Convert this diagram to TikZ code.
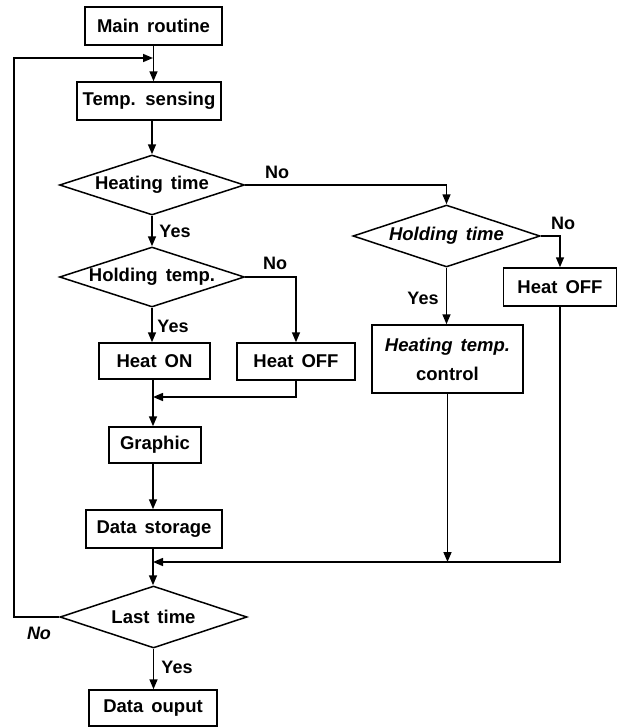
\documentclass[tikz,border=0pt]{standalone}
\usepackage{fontspec}
\setmainfont{Liberation Sans}
\usetikzlibrary{shapes.geometric,arrows.meta}
\newcommand\chartfont{\fontsize{18.5}{29}\selectfont\bfseries\spaceskip=8pt plus 1pt minus 1pt\relax}
\newcommand\lblfont{\fontsize{18}{22}\selectfont\bfseries}
\begin{document}
\begin{tikzpicture}[x=1pt,y=-1pt, line width=1.5pt,
 box/.style={draw, rectangle, inner sep=0pt, font=\chartfont, align=center},
 dia/.style={draw, diamond, inner sep=0pt, aspect=3, font=\chartfont},
 lbl/.style={font=\lblfont, inner sep=0pt},
 arr/.style={-{Triangle[length=10pt,width=8pt]}}]
\useasboundingbox (0,0) rectangle (625,728);

\node[box, minimum width=137, minimum height=38] (main) at (153.5,26) {Main routine};
\node[box, minimum width=144, minimum height=38] (temp) at (149,101) {Temp. sensing};
\node[dia, minimum width=185, minimum height=60] (ht) at (152,185) {\makebox[0pt]{Heating time}};
\node[dia, minimum width=185, minimum height=60] (hp) at (152,277) {\makebox[0pt]{Holding temp.}};
\node[box, minimum width=111, minimum height=36] (heaton) at (154.5,361) {Heat ON};
\node[box, minimum width=118, minimum height=37] (off1) at (296,361.5) {Heat OFF};
\node[box, minimum width=92, minimum height=36] (graphic) at (155,445) {Graphic};
\node[box, minimum width=136, minimum height=38] (store) at (154,529) {Data storage};
\node[dia, minimum width=187, minimum height=62] (last) at (153.5,617) {\makebox[0pt]{Last time}};
\node[box, minimum width=128, minimum height=36] (out) at (153,708) {Data ouput};
\node[dia, minimum width=187, minimum height=62] (holdt) at (446.5,236) {\makebox[0pt]{\itshape Holding time}};
\node[box, minimum width=151, minimum height=68] (htc) at (447.5,359) {{\itshape Heating temp.}\\control};
\node[box, minimum width=113, minimum height=38] (off2) at (560,287) {Heat OFF};

\node[lbl] (no1) at (277,172) {No};
\node[lbl] (yes1) at (175,231) {Yes};
\node[lbl] (no2) at (275,263) {No};
\node[lbl] (yes2) at (173,326) {Yes};
\node[lbl] (no3) at (563,223) {No};
\node[lbl] (yes3) at (423,298) {Yes};
\node[lbl, font=\lblfont\itshape] (no4) at (39,633) {No};
\node[lbl] (yes4) at (177,667) {Yes};

\coordinate (m0) at (153,58);
\coordinate (m1) at (153,397);
\coordinate (m2) at (153,562);
\coordinate (lx) at (14,0);

\draw[arr] (main.south) -- (main.south |- temp.north);
\draw[arr] (last.west) -- (last.west -| lx) |- (m0);
\draw[arr] (ht.north |- temp.south) -- (ht.north);
\draw[arr] (ht.east) -| (holdt.north);
\draw[arr] (ht.south) -- (hp.north);
\draw[arr] (hp.east) -| (off1.north);
\draw[arr] (hp.south) -- (hp.south |- heaton.north);
\draw[arr] (off1.south) |- (m1);
\draw[arr] (m1 |- heaton.south) -- (m1 |- graphic.north);
\draw[arr] (m1 |- graphic.south) -- (m1 |- store.north);
\draw[arr] (m2 |- store.south) -- (m2 |- last.north);
\draw[arr] (off2.south) |- (m2);
\draw[arr] (htc.south) -- (htc.south |- m2);
\draw[arr] (holdt.east) -| (off2.north);
\draw[arr] (holdt.south) -- (holdt.south |- htc.north);
\draw[arr] (last.south) -- (last.south |- out.north);
\end{tikzpicture}
\end{document}
